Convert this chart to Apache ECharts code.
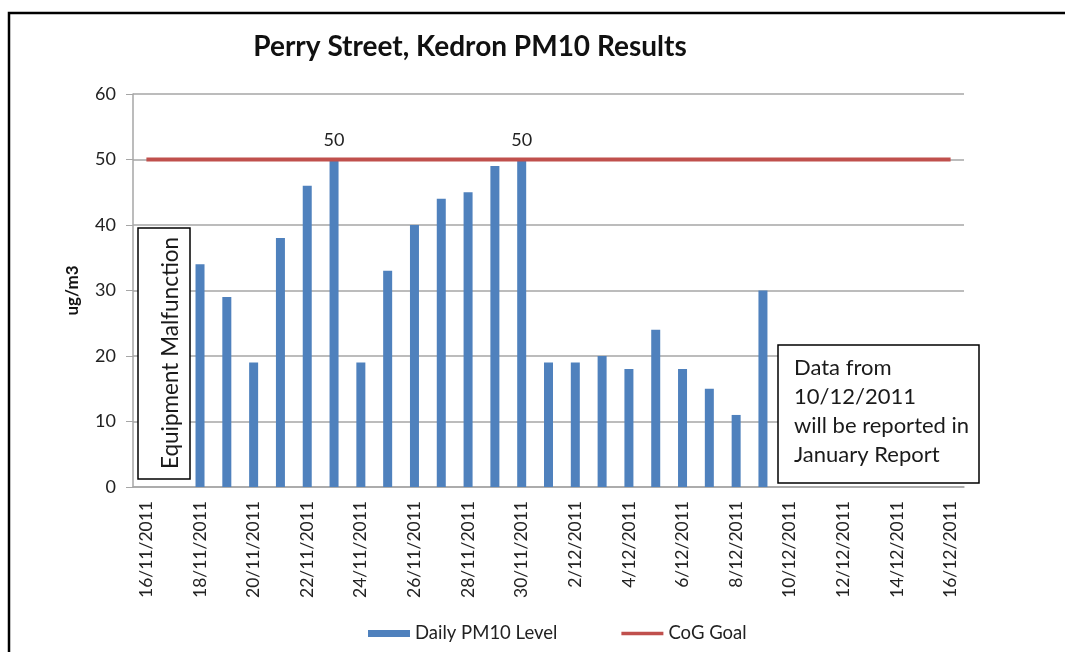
<!DOCTYPE html>
<html>
<head>
<meta charset="utf-8">
<title>Perry Street, Kedron PM10 Results</title>
<script src="https://cdn.jsdelivr.net/npm/echarts@6/dist/echarts.min.js"></script>
<style>
  html, body { margin: 0; padding: 0; background: #fff; }
  #chart { width: 1065px; height: 652px; }
</style>
</head>
<body>
<div id="chart"></div>
<script>
// 数据：每日日期（横轴类目）
var days = [
  '16/11/2011', '17/11/2011', '18/11/2011', '19/11/2011', '20/11/2011', '21/11/2011',
  '22/11/2011', '23/11/2011', '24/11/2011', '25/11/2011', '26/11/2011', '27/11/2011',
  '28/11/2011', '29/11/2011', '30/11/2011', '1/12/2011', '2/12/2011', '3/12/2011',
  '4/12/2011', '5/12/2011', '6/12/2011', '7/12/2011', '8/12/2011', '9/12/2011',
  '10/12/2011', '11/12/2011', '12/12/2011', '13/12/2011', '14/12/2011', '15/12/2011',
  '16/12/2011'
];

// 每日 PM10 读数（空值 = 没有数据）
var pm10 = [
  null, null, 34, 29, 19, 38,
  46, 50, 19, 33, 40, 44,
  45, 49, 50, 19, 19, 20,
  18, 24, 18, 15, 11, 30,
  null, null, null, null, null, null,
  null
];

// CoG 目标线
var cogGoal = [
  50, 50, 50, 50, 50, 50,
  50, 50, 50, 50, 50, 50,
  50, 50, 50, 50, 50, 50,
  50, 50, 50, 50, 50, 50,
  50, 50, 50, 50, 50, 50,
  50
];

// 纵轴刻度
var yTicks = { min: 0, max: 60, step: 10 };

var font = 'Lato, "Open Sans", sans-serif';
var chart = echarts.init(document.getElementById('chart'));

// 只给等于 50 的柱子加数据标签
var barData = pm10.map(function (v) {
  if (v === 50) {
    return { value: v, label: { show: true } };
  }
  return v;
});

var option = {
  animation: false,
  textStyle: { fontFamily: font },
  title: {
    text: 'Perry Street, Kedron PM10 Results',
    left: 465,
    textAlign: 'center',
    top: 28,
    textStyle: { fontFamily: font, fontSize: 28, fontWeight: 'bold', color: '#111' }
  },
  legend: {
    left: 363,
    top: 619,
    itemWidth: 42,
    itemHeight: 7,
    itemGap: 64,
    symbolKeepAspect: true,
    textStyle: { fontFamily: font, fontSize: 18.5, color: '#222' },
    data: [
      { name: 'Daily PM10 Level', icon: 'rect' },
      { name: 'CoG Goal', icon: 'path://M0,0H46V4H0Z' }
    ]
  },
  grid: { left: 133, right: 101, top: 94, bottom: 165 },
  xAxis: {
    type: 'category',
    data: days,
    boundaryGap: true,
    axisLine: { lineStyle: { color: '#a6a6a6', width: 1.5 } },
    axisTick: { interval: 1, length: 6, lineStyle: { color: '#a6a6a6' } },
    axisLabel: {
      interval: 1,
      rotate: 90,
      margin: 14,
      fontFamily: font,
      fontSize: 17.5,
      color: '#222'
    }
  },
  yAxis: {
    type: 'value',
    min: yTicks.min,
    max: yTicks.max,
    interval: yTicks.step,
    name: 'ug/m3',
    nameLocation: 'middle',
    nameGap: 52,
    nameTextStyle: { fontFamily: font, fontSize: 17, fontWeight: 'bold', color: '#111' },
    axisLine: { show: true, lineStyle: { color: '#a6a6a6', width: 1.5 } },
    axisTick: { show: true, length: 7, lineStyle: { color: '#a6a6a6' } },
    axisLabel: { margin: 17, fontFamily: font, fontSize: 18, color: '#222' },
    splitLine: { lineStyle: { color: '#a6a6a6', width: 1.5 } }
  },
  series: [
    {
      name: 'Daily PM10 Level',
      type: 'bar',
      data: barData,
      barWidth: 9,
      itemStyle: { color: '#4f81bd' },
      label: {
        show: false,
        position: 'top',
        distance: 10,
        fontFamily: font,
        fontSize: 18,
        color: '#222'
      },
      z: 2
    },
    {
      name: 'CoG Goal',
      type: 'line',
      data: cogGoal,
      symbol: 'none',
      lineStyle: { color: '#c0504d', width: 4 },
      itemStyle: { color: '#c0504d' },
      z: 3
    }
  ],
  graphic: [
    // 外框
    {
      type: 'rect',
      shape: { x: 9, y: 13, width: 1080, height: 680 },
      style: { fill: 'none', stroke: '#000', lineWidth: 2.5 },
      silent: true
    },
    // 设备故障说明框
    {
      type: 'rect',
      shape: { x: 138, y: 228, width: 52, height: 251 },
      style: { fill: '#fff', stroke: '#000', lineWidth: 1.5 },
      z: 10
    },
    {
      type: 'text',
      x: 171,
      y: 353,
      rotation: Math.PI / 2,
      style: {
        text: 'Equipment Malfunction',
        fontFamily: font,
        fontSize: 22.5,
        fill: '#1a1a1a',
        align: 'center',
        verticalAlign: 'middle'
      },
      z: 11
    },
    // 数据说明框
    {
      type: 'rect',
      shape: { x: 778, y: 345, width: 201, height: 138 },
      style: { fill: '#fff', stroke: '#000', lineWidth: 1.5 },
      z: 10
    },
    {
      type: 'text',
      x: 794,
      y: 353,
      style: {
        text: 'Data from\n10/12/2011\nwill be reported in\nJanuary Report',
        fontFamily: font,
        fontSize: 22,
        lineHeight: 29,
        fill: '#1a1a1a',
        align: 'left',
        verticalAlign: 'top'
      },
      z: 11
    }
  ]
};

chart.setOption(option);
</script>
</body>
</html>
